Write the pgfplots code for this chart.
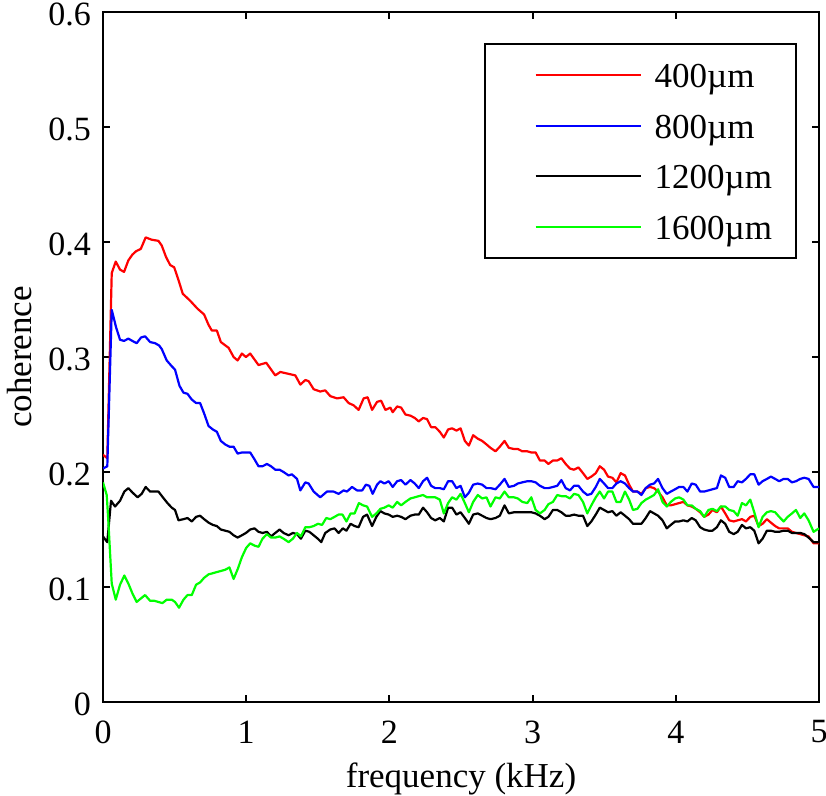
\documentclass[border=0pt]{standalone}
\usepackage{fontspec}
\setmainfont{Liberation Serif}
\usepackage{pgfplots}
\pgfplotsset{compat=1.18}
\begin{document}
\fontsize{17.5bp}{21bp}\selectfont
\begin{tikzpicture}
\begin{axis}[
  scale only axis, width=358bp, height=345bp,
  xmin=0, xmax=5, ymin=0, ymax=0.6,
  xtick={0,1,2,3,4,5}, xticklabels={0,1,2,3,4,5},
  ytick={0,0.1,0.2,0.3,0.4,0.5,0.6}, yticklabels={0,0.1,0.2,0.3,0.4,0.5,0.6},
  tick align=inside, major tick length=3.5bp,
  axis line style={line width=1bp},
  every tick/.style={black, line width=1bp},
  every tick label/.append style={font=\fontsize{17bp}{20bp}\selectfont},
  xticklabel style={yshift=-3.3bp},
  yticklabel style={yshift=-1bp},
  xlabel={frequency (kHz)}, ylabel={coherence},
  xlabel style={at={(axis description cs:0.5,-0.12319)}, anchor=base},
  ylabel style={at={(axis description cs:-0.09916,0.5)}, anchor=base},
  every axis plot/.append style={line width=1.1bp, line join=round},
  legend style={at={(1,1)}, anchor=north east, xshift=-11bp, yshift=-15.5bp,
    draw=black, line width=1bp, inner xsep=12bp, inner ysep=2.9bp,
    column sep=6.5bp, row sep=0pt,
    nodes={inner sep=0pt, text height=18.85bp, text depth=6.45bp},
    cells={anchor=west}},
  legend image code/.code={\path[draw=none] (-13.5bp,0bp) -- (0bp,0bp); \draw[#1,line width=0.95bp] (0bp,0bp) -- (52.5bp,0bp);},
]
\coordinate (sw) at (rel axis cs:0,0);
\coordinate (ne) at (rel axis cs:1,1);
\addplot[red] coordinates {
(0,0.215) (0.03,0.212) (0.061,0.373) (0.089,0.383) (0.119,0.376) (0.147,0.374) (0.177,0.384) (0.205,0.389) (0.231,0.392) (0.264,0.394) (0.298,0.404) (0.34,0.402) (0.387,0.401) (0.41,0.397) (0.44,0.387) (0.469,0.380) (0.497,0.378) (0.527,0.367) (0.557,0.355) (0.608,0.349) (0.66,0.342) (0.706,0.337) (0.737,0.328) (0.76,0.323) (0.795,0.323) (0.823,0.313) (0.877,0.308) (0.912,0.300) (0.94,0.297) (0.97,0.303) (0.998,0.300) (1.028,0.303) (1.086,0.293) (1.14,0.295) (1.203,0.284) (1.238,0.287) (1.343,0.284) (1.378,0.276) (1.413,0.280) (1.436,0.279) (1.471,0.272) (1.517,0.270) (1.552,0.271) (1.587,0.266) (1.634,0.264) (1.68,0.265) (1.715,0.260) (1.75,0.258) (1.785,0.254) (1.82,0.264) (1.848,0.265) (1.879,0.254) (1.914,0.261) (1.942,0.262) (1.972,0.254) (2.007,0.256) (2.023,0.252) (2.054,0.257) (2.082,0.256) (2.112,0.250) (2.147,0.249) (2.177,0.247) (2.205,0.244) (2.235,0.247) (2.263,0.246) (2.291,0.239) (2.32,0.239) (2.352,0.235) (2.38,0.230) (2.41,0.237) (2.438,0.238) (2.468,0.236) (2.497,0.238) (2.527,0.227) (2.555,0.223) (2.585,0.232) (2.617,0.229) (2.648,0.227) (2.678,0.224) (2.706,0.221) (2.741,0.218) (2.771,0.222) (2.804,0.227) (2.834,0.221) (2.87,0.220) (2.897,0.220) (2.928,0.218) (2.963,0.218) (2.991,0.217) (3.021,0.217) (3.051,0.210) (3.084,0.210) (3.11,0.207) (3.142,0.210) (3.172,0.210) (3.201,0.212) (3.231,0.207) (3.261,0.203) (3.289,0.202) (3.32,0.204) (3.352,0.199) (3.382,0.194) (3.41,0.196) (3.441,0.199) (3.469,0.205) (3.499,0.202) (3.527,0.196) (3.557,0.195) (3.585,0.191) (3.615,0.199) (3.645,0.197) (3.674,0.189) (3.701,0.183) (3.732,0.183) (3.76,0.181) (3.79,0.186) (3.82,0.187) (3.848,0.186) (3.876,0.183) (3.907,0.178) (3.937,0.171) (3.965,0.171) (3.995,0.172) (4.023,0.173) (4.053,0.174) (4.081,0.171) (4.111,0.170) (4.139,0.168) (4.17,0.165) (4.198,0.161) (4.228,0.163) (4.256,0.167) (4.287,0.165) (4.315,0.170) (4.345,0.164) (4.373,0.158) (4.404,0.157) (4.432,0.158) (4.462,0.159) (4.49,0.157) (4.52,0.161) (4.548,0.162) (4.578,0.153) (4.606,0.155) (4.636,0.159) (4.664,0.156) (4.694,0.153) (4.722,0.151) (4.753,0.151) (4.781,0.151) (4.811,0.148) (4.839,0.147) (4.869,0.146) (4.897,0.145) (4.927,0.144) (4.962,0.138) (5,0.138)
};
\addlegendentry{400µm}
\addplot[blue] coordinates {
(0,0.203) (0.03,0.205) (0.061,0.341) (0.091,0.326) (0.119,0.315) (0.147,0.314) (0.177,0.316) (0.205,0.314) (0.235,0.312) (0.266,0.317) (0.294,0.318) (0.329,0.313) (0.364,0.312) (0.392,0.310) (0.41,0.307) (0.445,0.297) (0.48,0.292) (0.503,0.289) (0.534,0.275) (0.562,0.269) (0.59,0.268) (0.62,0.263) (0.65,0.260) (0.678,0.260) (0.706,0.251) (0.737,0.240) (0.767,0.237) (0.795,0.235) (0.823,0.227) (0.853,0.224) (0.883,0.222) (0.912,0.222) (0.94,0.216) (0.97,0.217) (1.028,0.217) (1.058,0.211) (1.086,0.205) (1.114,0.205) (1.145,0.207) (1.173,0.205) (1.203,0.202) (1.233,0.202) (1.261,0.200) (1.296,0.197) (1.319,0.198) (1.355,0.194) (1.378,0.184) (1.413,0.191) (1.436,0.190) (1.471,0.183) (1.517,0.178) (1.564,0.183) (1.61,0.183) (1.645,0.181) (1.68,0.184) (1.704,0.183) (1.739,0.187) (1.774,0.184) (1.81,0.184) (1.836,0.189) (1.86,0.188) (1.883,0.181) (1.914,0.189) (1.937,0.192) (1.965,0.190) (1.995,0.192) (2.023,0.187) (2.054,0.192) (2.082,0.193) (2.112,0.189) (2.147,0.193) (2.177,0.190) (2.205,0.186) (2.235,0.192) (2.263,0.195) (2.291,0.188) (2.32,0.186) (2.352,0.186) (2.38,0.185) (2.41,0.192) (2.438,0.192) (2.468,0.186) (2.497,0.188) (2.527,0.178) (2.555,0.182) (2.585,0.189) (2.617,0.190) (2.648,0.189) (2.678,0.186) (2.706,0.186) (2.741,0.185) (2.771,0.189) (2.804,0.194) (2.834,0.187) (2.87,0.188) (2.897,0.190) (2.928,0.191) (2.963,0.192) (2.991,0.192) (3.021,0.191) (3.051,0.188) (3.084,0.186) (3.11,0.186) (3.142,0.187) (3.172,0.188) (3.201,0.193) (3.231,0.186) (3.261,0.184) (3.289,0.188) (3.32,0.188) (3.352,0.183) (3.382,0.180) (3.41,0.181) (3.441,0.187) (3.469,0.194) (3.499,0.190) (3.527,0.186) (3.557,0.186) (3.585,0.190) (3.615,0.192) (3.645,0.190) (3.674,0.186) (3.701,0.183) (3.732,0.183) (3.76,0.180) (3.79,0.186) (3.82,0.189) (3.848,0.190) (3.876,0.194) (3.907,0.186) (3.937,0.181) (3.965,0.183) (3.995,0.185) (4.023,0.187) (4.053,0.187) (4.081,0.183) (4.111,0.190) (4.139,0.189) (4.17,0.183) (4.198,0.183) (4.228,0.184) (4.256,0.185) (4.287,0.186) (4.315,0.197) (4.345,0.195) (4.373,0.187) (4.404,0.187) (4.432,0.192) (4.462,0.191) (4.49,0.194) (4.52,0.198) (4.548,0.198) (4.578,0.189) (4.606,0.192) (4.636,0.194) (4.664,0.196) (4.694,0.194) (4.722,0.192) (4.753,0.194) (4.781,0.194) (4.811,0.191) (4.839,0.192) (4.869,0.194) (4.897,0.195) (4.927,0.194) (4.962,0.187) (5,0.187)
};
\addlegendentry{800µm}
\addplot[black] coordinates {
(0,0.144) (0.03,0.139) (0.056,0.175) (0.084,0.170) (0.119,0.175) (0.149,0.183) (0.177,0.186) (0.207,0.182) (0.242,0.178) (0.27,0.181) (0.298,0.187) (0.329,0.183) (0.359,0.183) (0.387,0.183) (0.418,0.178) (0.45,0.173) (0.48,0.169) (0.503,0.167) (0.527,0.158) (0.562,0.159) (0.59,0.160) (0.62,0.157) (0.65,0.161) (0.678,0.162) (0.706,0.159) (0.737,0.156) (0.767,0.154) (0.795,0.153) (0.823,0.150) (0.853,0.149) (0.883,0.148) (0.912,0.145) (0.94,0.143) (0.97,0.145) (0.998,0.147) (1.028,0.150) (1.058,0.151) (1.086,0.148) (1.114,0.147) (1.145,0.148) (1.173,0.144) (1.203,0.147) (1.233,0.150) (1.261,0.147) (1.296,0.145) (1.326,0.147) (1.355,0.146) (1.382,0.142) (1.413,0.149) (1.441,0.148) (1.471,0.145) (1.5,0.142) (1.524,0.139) (1.552,0.147) (1.587,0.150) (1.617,0.151) (1.645,0.147) (1.675,0.151) (1.7,0.149) (1.729,0.155) (1.757,0.153) (1.785,0.152) (1.816,0.161) (1.844,0.163) (1.879,0.153) (1.909,0.161) (1.937,0.166) (1.965,0.164) (1.995,0.163) (2.023,0.161) (2.054,0.162) (2.082,0.161) (2.112,0.159) (2.147,0.162) (2.177,0.163) (2.205,0.163) (2.235,0.169) (2.263,0.165) (2.291,0.160) (2.32,0.158) (2.352,0.160) (2.38,0.157) (2.41,0.169) (2.438,0.169) (2.468,0.163) (2.497,0.165) (2.527,0.160) (2.555,0.155) (2.585,0.163) (2.617,0.164) (2.648,0.162) (2.678,0.160) (2.706,0.159) (2.741,0.160) (2.771,0.162) (2.804,0.171) (2.834,0.164) (2.87,0.165) (2.897,0.165) (2.928,0.165) (2.963,0.165) (2.991,0.165) (3.021,0.164) (3.051,0.162) (3.084,0.159) (3.11,0.161) (3.142,0.167) (3.172,0.167) (3.201,0.165) (3.231,0.162) (3.261,0.162) (3.289,0.163) (3.32,0.162) (3.352,0.162) (3.382,0.153) (3.41,0.157) (3.441,0.163) (3.469,0.169) (3.499,0.167) (3.527,0.165) (3.557,0.166) (3.585,0.162) (3.615,0.165) (3.645,0.162) (3.674,0.159) (3.701,0.155) (3.732,0.155) (3.76,0.155) (3.79,0.160) (3.82,0.166) (3.848,0.164) (3.876,0.162) (3.907,0.158) (3.937,0.151) (3.965,0.154) (3.995,0.157) (4.023,0.157) (4.053,0.158) (4.081,0.157) (4.111,0.160) (4.139,0.158) (4.17,0.152) (4.198,0.150) (4.228,0.149) (4.256,0.149) (4.287,0.152) (4.315,0.158) (4.345,0.155) (4.373,0.148) (4.404,0.146) (4.432,0.148) (4.462,0.154) (4.49,0.151) (4.52,0.152) (4.548,0.149) (4.578,0.138) (4.606,0.142) (4.636,0.149) (4.664,0.149) (4.694,0.148) (4.722,0.148) (4.753,0.149) (4.781,0.149) (4.811,0.147) (4.839,0.147) (4.869,0.147) (4.897,0.146) (4.927,0.143) (4.962,0.139) (5,0.139)
};
\addlegendentry{1200µm}
\addplot[green] coordinates {
(0,0.191) (0.026,0.180) (0.037,0.158) (0.061,0.103) (0.089,0.089) (0.119,0.102) (0.149,0.110) (0.177,0.103) (0.207,0.094) (0.235,0.087) (0.264,0.090) (0.294,0.093) (0.329,0.088) (0.359,0.088) (0.387,0.087) (0.415,0.086) (0.445,0.089) (0.48,0.089) (0.503,0.087) (0.531,0.082) (0.562,0.089) (0.59,0.093) (0.62,0.093) (0.65,0.102) (0.678,0.104) (0.706,0.108) (0.737,0.111) (0.767,0.112) (0.795,0.113) (0.825,0.114) (0.853,0.115) (0.883,0.117) (0.912,0.107) (0.942,0.116) (0.97,0.126) (1.0,0.134) (1.028,0.138) (1.058,0.136) (1.086,0.135) (1.114,0.142) (1.145,0.146) (1.173,0.143) (1.203,0.143) (1.233,0.144) (1.261,0.142) (1.296,0.139) (1.326,0.142) (1.355,0.147) (1.382,0.144) (1.413,0.152) (1.441,0.152) (1.471,0.153) (1.501,0.155) (1.53,0.154) (1.559,0.160) (1.587,0.159) (1.617,0.161) (1.645,0.163) (1.672,0.163) (1.7,0.157) (1.729,0.164) (1.757,0.164) (1.787,0.173) (1.816,0.171) (1.844,0.170) (1.879,0.161) (1.909,0.164) (1.937,0.168) (1.965,0.169) (1.995,0.171) (2.023,0.169) (2.054,0.174) (2.082,0.171) (2.112,0.174) (2.147,0.177) (2.177,0.178) (2.205,0.179) (2.235,0.180) (2.263,0.178) (2.291,0.178) (2.32,0.178) (2.352,0.176) (2.38,0.164) (2.41,0.173) (2.438,0.178) (2.468,0.176) (2.497,0.181) (2.527,0.173) (2.555,0.165) (2.585,0.174) (2.617,0.180) (2.648,0.177) (2.678,0.178) (2.706,0.170) (2.741,0.178) (2.771,0.177) (2.804,0.183) (2.834,0.178) (2.87,0.178) (2.897,0.177) (2.928,0.174) (2.963,0.173) (2.991,0.178) (3.021,0.167) (3.051,0.164) (3.084,0.167) (3.11,0.172) (3.142,0.174) (3.172,0.180) (3.201,0.179) (3.231,0.179) (3.261,0.177) (3.289,0.181) (3.32,0.180) (3.352,0.174) (3.382,0.164) (3.41,0.171) (3.441,0.178) (3.469,0.183) (3.499,0.177) (3.527,0.183) (3.557,0.183) (3.585,0.174) (3.615,0.174) (3.645,0.183) (3.674,0.176) (3.701,0.167) (3.732,0.168) (3.76,0.173) (3.79,0.176) (3.82,0.178) (3.848,0.180) (3.876,0.185) (3.907,0.174) (3.937,0.170) (3.965,0.174) (3.995,0.177) (4.023,0.178) (4.053,0.176) (4.081,0.171) (4.111,0.171) (4.139,0.168) (4.17,0.166) (4.198,0.161) (4.228,0.167) (4.256,0.168) (4.287,0.166) (4.315,0.170) (4.345,0.170) (4.373,0.167) (4.404,0.166) (4.432,0.162) (4.462,0.173) (4.49,0.171) (4.52,0.176) (4.548,0.165) (4.578,0.152) (4.606,0.161) (4.636,0.165) (4.664,0.166) (4.694,0.165) (4.722,0.161) (4.753,0.157) (4.781,0.161) (4.811,0.164) (4.839,0.167) (4.869,0.160) (4.897,0.164) (4.927,0.158) (4.962,0.148) (5,0.151)
};
\addlegendentry{1600µm}
\end{axis}
\pgfresetboundingbox
\path ([shift={(-51.5bp,-46.5bp)}]sw) rectangle ([shift={(3.5bp,6bp)}]ne);
\end{tikzpicture}
\end{document}
